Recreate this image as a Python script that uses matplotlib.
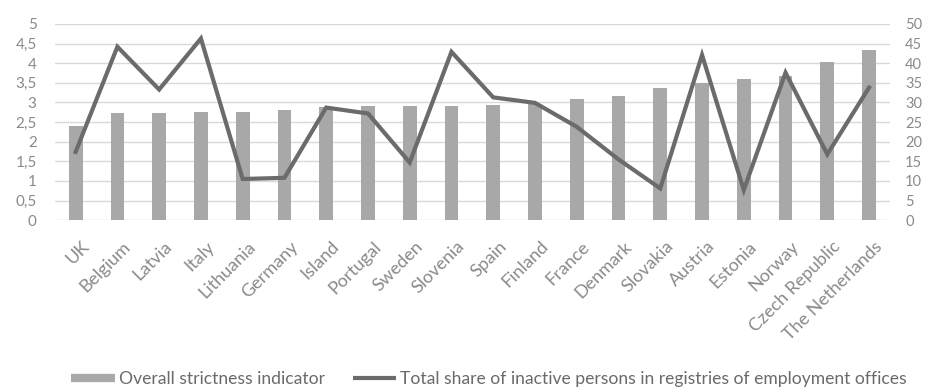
import matplotlib
matplotlib.use("Agg")
import matplotlib.pyplot as plt
import matplotlib.transforms as mtransforms
import numpy as np
from matplotlib.lines import Line2D

countries = ["UK", "Belgium", "Latvia", "Italy", "Lithuania", "Germany", "Island",
             "Portugal", "Sweden", "Slovenia", "Spain", "Finland", "France", "Denmark",
             "Slovakia", "Austria", "Estonia", "Norway", "Czech Republic", "The Netherlands"]
strictness = [2.40, 2.72, 2.72, 2.76, 2.76, 2.82, 2.89, 2.91, 2.91, 2.91,
              2.94, 2.95, 3.08, 3.16, 3.37, 3.50, 3.59, 3.68, 4.03, 4.35]
inactive_share = [17.4, 44.2, 33.3, 46.3, 10.5, 10.8, 28.7, 27.2, 14.7, 42.9,
                  31.3, 29.9, 23.8, 15.5, 8.1, 42.1, 7.7, 37.6, 16.8, 33.8]
left_ticks = [0, 0.5, 1, 1.5, 2, 2.5, 3, 3.5, 4, 4.5, 5]
left_labels = ["0", "0,5", "1", "1,5", "2", "2,5", "3", "3,5", "4", "4,5", "5"]
right_ticks = [0, 5, 10, 15, 20, 25, 30, 35, 40, 45, 50]
bar_label = "Overall strictness indicator"
line_label = "Total share of inactive persons in registries of employment offices"

plt.rcParams['font.family'] = ['Lato', 'DejaVu Sans']
txt = "#8a8a8a"
bar_c = "#a8a8a8"
line_c = "#6b6b6b"

fig = plt.figure(figsize=(9.28, 3.87), dpi=100)
ax = fig.add_axes([0.059, 0.431, 0.900, 0.507])
x = np.arange(len(countries))
ax.bar(x, strictness, width=0.33, color=bar_c, zorder=2)
ax.set_ylim(0, 5)
ax.set_xlim(-0.5, len(countries) - 0.5)
ax.set_yticks(left_ticks)
ax.set_yticklabels(left_labels)
for y in left_ticks:
    ax.axhline(y, color="#d9d9d9", lw=1, zorder=1)
ax.set_xticks(x)
ax.set_xticklabels(countries, rotation=45, ha="right", va="top", rotation_mode="anchor")
ax.tick_params(axis="x", length=0, pad=13, labelsize=13, colors=txt)
ax.tick_params(axis="y", length=0, pad=13, labelsize=11, colors=txt)
offset = mtransforms.ScaledTranslation(5 / 100, 0, fig.dpi_scale_trans)
for lab in ax.get_xticklabels():
    lab.set_transform(lab.get_transform() + offset)
for s in ax.spines.values():
    s.set_visible(False)

ax2 = ax.twinx()
ax2.plot(x, inactive_share, color=line_c, lw=3, zorder=3, solid_joinstyle="miter")
ax2.set_ylim(0, 50)
ax2.set_yticks(right_ticks)
ax2.tick_params(axis="y", length=0, pad=11, labelsize=10.5, colors=txt)
for s in ax2.spines.values():
    s.set_visible(False)

handles = [Line2D([0], [0], color=bar_c, lw=6, solid_capstyle="butt"),
           Line2D([0], [0], color=line_c, lw=3, solid_capstyle="butt")]
fig.legend(handles, [bar_label, line_label], loc="center", bbox_to_anchor=(0.527, 0.021),
           ncol=2, frameon=False, fontsize=12.6, labelcolor="#6a6a6a",
           handlelength=2.5, handletextpad=0.2, columnspacing=1.6, borderpad=0)

fig.savefig("out.png", dpi=100)
